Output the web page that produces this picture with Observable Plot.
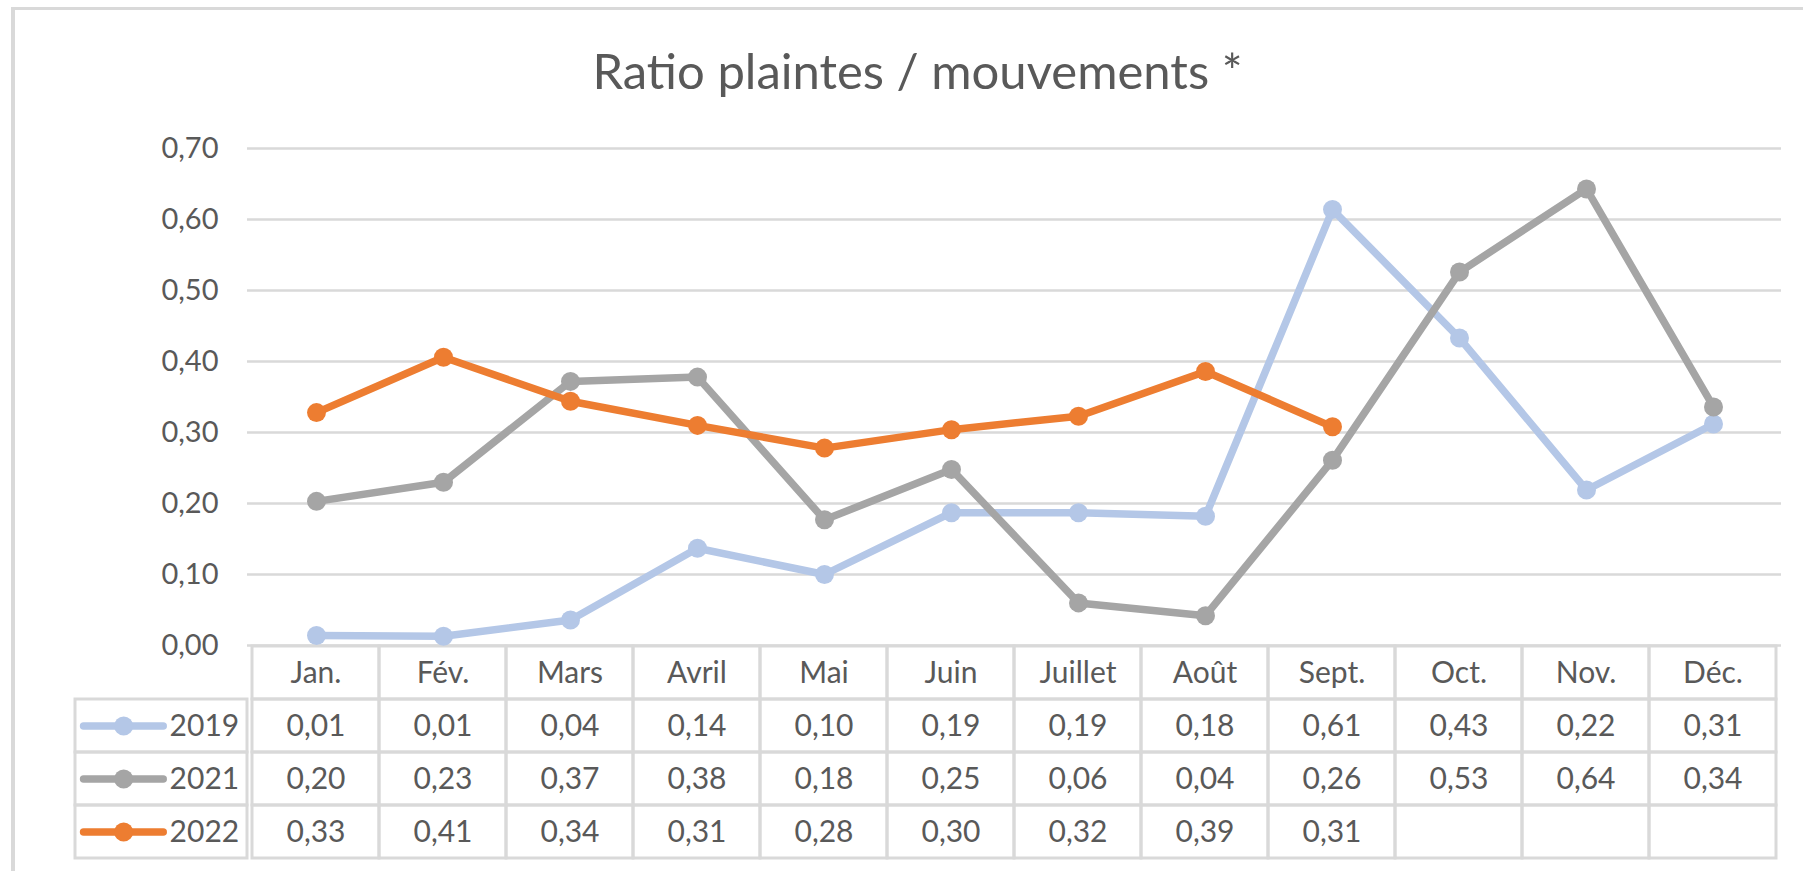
<!DOCTYPE html>
<html>
<head>
<meta charset="utf-8">
<script src="https://cdn.jsdelivr.net/npm/d3@7"></script>
<script src="https://cdn.jsdelivr.net/npm/@observablehq/plot@0.6"></script>
<style>
  html, body { margin: 0; padding: 0; background: #fff; }
  #root { position: relative; width: 1803px; height: 871px; overflow: hidden; font-family: Lato, sans-serif; }
  #frame { position: absolute; left: 11px; top: 7px; width: 1900px; height: 1000px; border-left: 4px solid #d9d9d9; border-top: 3px solid #d9d9d9; }
  #title { position: absolute; left: 0; width: 1835px; top: 46px; text-align: center; font-size: 49px; line-height: 49px; color: #595959; white-space: nowrap; }
  .layer { position: absolute; left: 0; top: 0; }
</style>
</head>
<body>
<div id="root">
  <div id="frame"></div>
  <div id="title">Ratio plaintes / mouvements *</div>
  <div id="table" class="layer"></div>
  <div id="legend" class="layer"></div>
  <div id="chart" class="layer"></div>
</div>
<script>
// ---- data ----
const months = ["Jan.", "Fév.", "Mars", "Avril", "Mai", "Juin", "Juillet", "Août", "Sept.", "Oct.", "Nov.", "Déc."];
const years = ["2019", "2021", "2022"];
const values2019 = [0.014, 0.013, 0.036, 0.137, 0.100, 0.187, 0.187, 0.182, 0.614, 0.433, 0.219, 0.312];
const values2021 = [0.203, 0.230, 0.372, 0.378, 0.177, 0.248, 0.060, 0.042, 0.261, 0.526, 0.643, 0.336];
const values2022 = [0.328, 0.406, 0.344, 0.310, 0.278, 0.304, 0.323, 0.386, 0.308, null, null, null];
const yTicks = [0, 0.1, 0.2, 0.3, 0.4, 0.5, 0.6, 0.7];
const colors = ["#B4C7E7", "#A5A5A5", "#ED7D31"];

const series = {"2019": values2019, "2021": values2021, "2022": values2022};
const fmt = v => (v == null ? "" : v.toFixed(2).replace(".", ","));
const data = years.flatMap(yr => months.map((m, j) => ({year: yr, month: m, value: series[yr][j]})));

const textColor = "#595959";
const gridColor = "#d9d9d9";
const baseStyle = {background: "transparent", fontFamily: "Lato, sans-serif", fontSize: "30px", color: textColor, overflow: "visible"};

// ---- chart ----
const seriesMarks = years.flatMap(yr => {
  const d = data.filter(r => r.year === yr && r.value != null);
  return [
    Plot.line(d, {x: "month", y: "value", stroke: "year", strokeWidth: 7.5, strokeLinejoin: "round", strokeLinecap: "round"}),
    Plot.dot(d, {x: "month", y: "value", fill: "year", r: 9.5})
  ];
});

const chart = Plot.plot({
  width: 1803, height: 660,
  marginLeft: 247, marginRight: 22, marginTop: 148, marginBottom: 15,
  style: baseStyle,
  x: {type: "point", domain: months, padding: 0.5, axis: null},
  y: {domain: [0, 0.7], axis: null},
  color: {domain: years, range: colors},
  marks: [
    Plot.gridY(yTicks, {stroke: gridColor, strokeOpacity: 1, strokeWidth: 2.5}),
    Plot.axisY(yTicks, {tickSize: 0, tickPadding: 29, tickFormat: fmt, fontSize: 29, fill: textColor, label: null}),
    ...seriesMarks
  ]
});
document.getElementById("chart").appendChild(chart);

// ---- data table ----
const rowKeys = ["mois", ...years];
const cells = rowKeys.flatMap(r => months.map((m, j) => ({row: r, month: m, label: r === "mois" ? m : fmt(series[r][j])})));

const table = Plot.plot({
  width: 1803, height: 871,
  marginLeft: 247, marginRight: 22, marginTop: 645, marginBottom: 13,
  style: baseStyle,
  x: {type: "band", domain: months, padding: 0, axis: null},
  y: {type: "band", domain: rowKeys, padding: 0, axis: null},
  marks: [
    Plot.cell(cells, {x: "month", y: "row", fill: "none", stroke: gridColor, strokeWidth: 3}),
    Plot.text(cells, {x: "month", y: "row", text: "label", fill: textColor, fontSize: 30})
  ]
});
document.getElementById("table").appendChild(table);

// ---- legend column of the table ----
const legend = Plot.plot({
  width: 247, height: 871,
  marginLeft: 75, marginRight: 0, marginTop: 698, marginBottom: 13,
  style: baseStyle,
  x: {domain: [0, 1], axis: null},
  y: {type: "band", domain: years, padding: 0, axis: null},
  color: {domain: years, range: colors},
  marks: [
    Plot.barX(years, {x1: 0, x2: 1, y: d => d, fill: "none", stroke: gridColor, strokeWidth: 3}),
    Plot.link(years, {x1: 0.047, x2: 0.51, y1: d => d, y2: d => d, stroke: d => d, strokeWidth: 7.5, strokeLinecap: "round"}),
    Plot.dot(years, {x: 0.28, y: d => d, fill: d => d, r: 9.5}),
    Plot.text(years, {x: 0.547, y: d => d, text: d => d, textAnchor: "start", fill: textColor, fontSize: 30})
  ]
});
document.getElementById("legend").appendChild(legend);
</script>
</body>
</html>
